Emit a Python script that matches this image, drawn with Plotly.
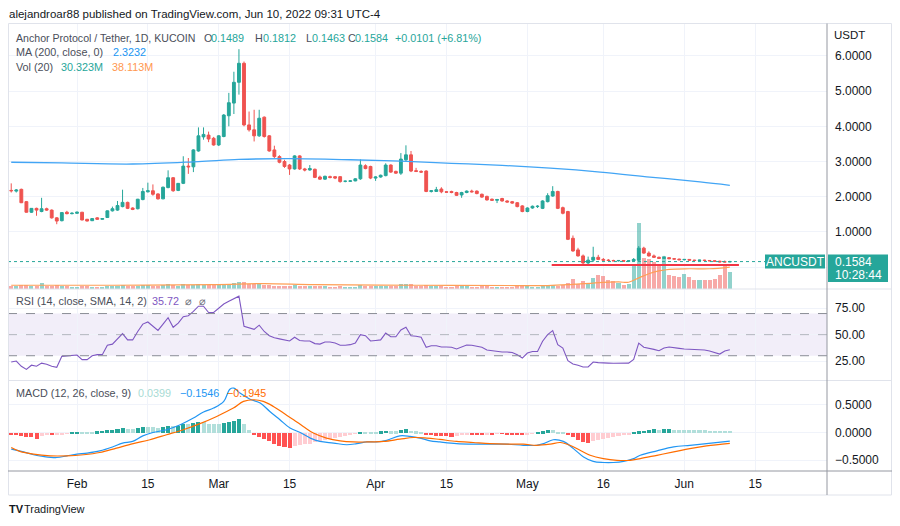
import plotly.graph_objects as go
import pandas as pd

# ---------------- DATA ----------------
start = pd.Timestamp("2022-01-19")
n_days = 143
dates = pd.date_range(start, periods=n_days, freq="D")

opens = [2.18, 2.16, 2.21, 1.86, 1.56, 1.67, 1.58, 1.66, 1.62, 1.40,
         1.32, 1.56, 1.52, 1.53, 1.56, 1.36, 1.32, 1.40, 1.36, 1.41,
         1.60, 1.62, 1.72, 1.84, 1.68, 1.66, 1.92, 2.14, 2.17, 2.08,
         1.94, 2.26, 2.54, 2.18, 2.38, 2.87, 2.85, 3.30, 3.70, 3.75,
         3.66, 3.47, 3.71, 4.30, 4.66, 5.25, 5.79, 4.04, 3.90, 3.73,
         4.26, 3.73, 3.33, 3.14, 3.00, 2.90, 2.79, 3.16, 2.79, 2.76,
         2.78, 2.56, 2.50, 2.57, 2.57, 2.57, 2.44, 2.44, 2.45, 2.51,
         2.88, 2.86, 2.53, 2.56, 2.60, 2.90, 2.72, 2.67, 3.05, 3.19,
         2.74, 2.72, 2.73, 2.15, 2.15, 2.22, 2.14, 2.15, 2.12, 2.05,
         2.12, 2.16, 2.16, 2.07, 2.01, 1.93, 1.90, 1.95, 1.88, 1.86,
         1.83, 1.74, 1.58, 1.68, 1.72, 1.67, 1.86, 2.02, 2.15, 1.69,
         1.58, 0.82, 0.49, 0.32, 0.12, 0.20, 0.28, 0.22, 0.20, 0.19,
         0.18, 0.19, 0.17, 0.18, 0.20, 0.54, 0.40, 0.32, 0.28, 0.25,
         0.27, 0.24, 0.23, 0.21, 0.22, 0.20, 0.19, 0.20, 0.19, 0.18,
         0.17, 0.15, 0.1489]
highs = [2.38, 2.22, 2.23, 1.88, 1.68, 1.69, 1.97, 1.69, 1.64, 1.42,
         1.56, 1.60, 1.56, 1.58, 1.57, 1.37, 1.39, 1.42, 1.39, 1.61,
         1.72, 1.88, 2.20, 1.86, 1.70, 1.94, 2.25, 2.40, 2.35, 2.10,
         2.29, 2.75, 2.56, 2.39, 3.15, 3.10, 3.35, 3.97, 3.97, 3.85,
         3.70, 3.75, 4.35, 4.95, 5.55, 6.19, 5.84, 4.42, 4.47, 4.47,
         4.28, 3.75, 3.45, 3.18, 3.05, 2.93, 3.18, 3.18, 2.82, 2.90,
         2.80, 2.60, 2.60, 2.60, 2.59, 2.58, 2.46, 2.47, 2.53, 3.06,
         2.92, 2.88, 2.58, 2.63, 2.95, 2.92, 2.74, 3.24, 3.46, 3.30,
         2.82, 2.75, 2.75, 2.19, 2.28, 2.27, 2.16, 2.17, 2.14, 2.14,
         2.18, 2.20, 2.18, 2.09, 2.03, 1.95, 1.94, 1.97, 1.90, 1.88,
         1.85, 1.76, 1.70, 1.75, 1.76, 1.90, 2.10, 2.30, 2.17, 1.72,
         1.60, 0.90, 0.55, 0.36, 0.30, 0.58, 0.35, 0.26, 0.23, 0.21,
         0.20, 0.20, 0.19, 0.26, 0.60, 0.58, 0.45, 0.36, 0.30, 0.32,
         0.28, 0.26, 0.24, 0.23, 0.23, 0.21, 0.21, 0.21, 0.20, 0.19,
         0.18, 0.19, 0.1812]
lows = [2.12, 2.12, 1.82, 1.55, 1.54, 1.46, 1.56, 1.60, 1.38, 1.22,
        1.30, 1.50, 1.50, 1.51, 1.33, 1.30, 1.31, 1.35, 1.35, 1.40,
        1.58, 1.60, 1.70, 1.65, 1.62, 1.64, 1.90, 2.12, 2.03, 1.92,
        1.93, 2.24, 2.14, 2.16, 2.36, 2.65, 2.70, 3.28, 3.62, 3.55,
        3.45, 3.44, 3.69, 4.00, 4.35, 4.90, 4.00, 3.85, 3.57, 3.70,
        3.68, 3.28, 3.10, 2.95, 2.82, 2.62, 2.77, 2.76, 2.72, 2.74,
        2.53, 2.48, 2.48, 2.52, 2.50, 2.40, 2.41, 2.42, 2.44, 2.48,
        2.78, 2.50, 2.45, 2.54, 2.58, 2.68, 2.65, 2.62, 3.00, 2.70,
        2.70, 2.68, 2.13, 2.12, 2.14, 2.10, 2.12, 2.10, 2.02, 1.97,
        2.10, 2.12, 2.07, 1.97, 1.89, 1.88, 1.82, 1.86, 1.84, 1.80,
        1.70, 1.56, 1.56, 1.66, 1.68, 1.65, 1.84, 2.00, 1.65, 1.50,
        0.77, 0.44, 0.30, 0.07, 0.06, 0.15, 0.20, 0.18, 0.17, 0.17,
        0.16, 0.16, 0.15, 0.16, 0.18, 0.38, 0.30, 0.26, 0.24, 0.23,
        0.23, 0.22, 0.20, 0.19, 0.19, 0.18, 0.18, 0.18, 0.17, 0.16,
        0.14, 0.14, 0.1463]
closes = [2.17, 2.19, 1.83, 1.56, 1.67, 1.62, 1.66, 1.62, 1.40, 1.31,
          1.55, 1.52, 1.53, 1.56, 1.34, 1.31, 1.38, 1.36, 1.38, 1.60,
          1.66, 1.75, 1.84, 1.67, 1.64, 1.93, 2.15, 2.17, 2.07, 1.94,
          2.27, 2.54, 2.17, 2.38, 2.87, 2.85, 3.33, 3.73, 3.77, 3.64,
          3.47, 3.73, 4.32, 4.67, 5.25, 5.79, 4.04, 3.90, 3.73, 4.23,
          3.71, 3.30, 3.14, 2.98, 2.86, 2.79, 3.16, 2.79, 2.76, 2.80,
          2.55, 2.50, 2.58, 2.55, 2.53, 2.43, 2.44, 2.45, 2.51, 2.90,
          2.80, 2.53, 2.56, 2.61, 2.90, 2.70, 2.67, 3.07, 3.19, 2.73,
          2.72, 2.70, 2.15, 2.17, 2.20, 2.14, 2.13, 2.12, 2.04, 2.12,
          2.16, 2.14, 2.09, 1.99, 1.91, 1.90, 1.92, 1.88, 1.85, 1.82,
          1.72, 1.58, 1.68, 1.73, 1.73, 1.88, 2.03, 2.15, 1.67, 1.53,
          0.79, 0.46, 0.32, 0.12, 0.20, 0.28, 0.22, 0.20, 0.19, 0.18,
          0.19, 0.17, 0.18, 0.22, 0.54, 0.40, 0.32, 0.28, 0.25, 0.27,
          0.24, 0.23, 0.21, 0.22, 0.20, 0.19, 0.20, 0.19, 0.18, 0.17,
          0.15, 0.149, 0.1584]
volumes_m = [5, 4, 6, 6, 5, 5, 10, 5, 5, 6,
             5, 4, 3, 3, 5, 4, 3, 3, 3, 4,
             4, 5, 7, 5, 4, 5, 6, 7, 5, 5,
             7, 8, 7, 5, 9, 6, 7, 8, 7, 6,
             6, 6, 7, 8, 10, 11, 12, 9, 8, 9,
             7, 6, 5, 5, 5, 5, 6, 5, 4, 4,
             4, 4, 4, 3, 3, 4, 3, 3, 3, 7,
             5, 5, 4, 4, 5, 4, 4, 9, 9, 8,
             5, 4, 6, 4, 4, 4, 3, 3, 4, 4,
             4, 3, 3, 4, 4, 3, 3, 3, 3, 3,
             4, 4, 4, 3, 3, 4, 4, 6, 5, 6,
             10, 17, 9, 13, 10, 19, 25, 23, 15, 13,
             10, 7, 8, 45, 119, 56, 53, 48, 45, 59,
             24, 23, 21, 27, 21, 15, 15, 15, 15, 18,
             25, 45, 30.323]
# Volume MA(20), read at sparse days
vol_ma_day = [0, 20, 40, 50, 60, 80, 100, 106, 110, 115, 120, 122, 124, 126, 128, 130, 134, 138, 142]
vol_ma_val = [5, 5, 6, 8, 6, 5, 4.5, 4.5, 6, 9, 11, 10.5, 18.4, 26, 31, 34, 35, 35, 38.113]
# MA(200) read at sparse days
ma200_day = [0, 10, 24, 37, 45, 55, 67, 77, 87, 97, 106.5, 116.4, 126.2, 136.1, 142]
ma200_val = [2.98, 2.96, 2.93, 3.00, 3.06, 3.08, 3.05, 3.01, 2.95, 2.89, 2.81, 2.70, 2.56, 2.42, 2.3232]

rsi = [24, 25, 20, 17, 21, 20, 23, 22, 20, 19,
       29.4, 30, 30.3, 30.7, 26.3, 26.3, 30, 31, 31, 40,
       41, 46, 51, 45, 45, 53, 60, 62, 58, 54,
       60, 66, 57, 61, 67, 68, 72, 77, 77, 71,
       71, 75, 79, 81.6, 84, 86.5, 58, 56.5, 55, 59,
       53, 49, 47, 46, 45, 44, 47.5, 44.5, 44, 44,
       41.5, 41, 43, 43, 42, 40, 40, 40.5, 42, 50,
       49, 44, 44.5, 45, 51.5, 48, 48, 54.5, 57, 49,
       48.5, 47.5, 38, 39.5, 39.5, 38.3, 38.3, 38, 36.4, 38.5,
       40.2, 40, 39, 38, 35.5, 34.8, 34.5, 33.5, 33.5, 33,
       31, 27.8, 32.6, 34, 34, 43.7, 50, 53.8, 40.5, 37.3,
       25.3, 22.2, 21, 19.3, 19.3, 24, 23.5, 23, 23, 22.8,
       22.7, 22.5, 23, 26.5, 42, 38, 37.3, 36, 34.8, 37.3,
       38.3, 38, 37, 36.4, 36.2, 36, 35.8, 35.5, 34.5, 33,
       31.6, 34.5, 35.72]

macd_hist = [-0.02, -0.03, -0.06, -0.07, -0.08, -0.10, -0.05, -0.04, -0.04, -0.03,
             -0.02, -0.01, 0.01, 0.02, 0.02, 0.02, 0.02, 0.03, 0.04, 0.05,
             0.06, 0.07, 0.09, 0.08, 0.07, 0.09, 0.11, 0.11, 0.10, 0.09,
             0.10, 0.12, 0.12, 0.13, 0.17, 0.16, 0.18, 0.20, 0.20, 0.17,
             0.16, 0.16, 0.18, 0.20, 0.22, 0.25, 0.16, 0.05, -0.03, -0.07,
             -0.10, -0.15, -0.20, -0.23, -0.26, -0.27, -0.23, -0.22, -0.20, -0.19,
             -0.17, -0.15, -0.13, -0.11, -0.09, -0.07, -0.05, -0.03, -0.01, 0.02,
             0.02, 0.02, 0.02, 0.03, 0.04, 0.03, 0.03, 0.06, 0.07, 0.04,
             0.03, 0.01, -0.02, -0.04, -0.05, -0.06, -0.06, -0.07, -0.05, -0.03,
             -0.02, -0.02, -0.02, -0.03, -0.02, -0.02, -0.01, -0.01, -0.02, -0.03,
             -0.03, -0.04, -0.02, -0.01, 0.02, 0.03, 0.05, 0.05, 0.02, 0.01,
             -0.03, -0.08, -0.12, -0.17, -0.18, -0.15, -0.13, -0.11, -0.09, -0.07,
             -0.05, -0.04, -0.02, 0.01, 0.03, 0.04, 0.06, 0.065, 0.06, 0.065,
             0.066, 0.058, 0.055, 0.053, 0.051, 0.05, 0.048, 0.046, 0.045, 0.043,
             0.042, 0.041, 0.0399]

macd_day = [0, 2, 4.4, 6.3, 9, 11, 13, 15, 17.5, 20, 22, 24, 26, 28, 30.7, 33.4, 36, 38, 40, 42,
            43.2, 44, 45.2, 47.2, 49.2, 51.1, 53.1, 55.1, 57.1, 59.1, 61, 63.7, 66.3, 68.3, 70.3,
            72.2, 74.2, 76.8, 78.8, 80.8, 82.8, 84.7, 88, 91.3, 94.6, 97.9, 101.2, 103.8, 105.2,
            107.1, 109.1, 111.1, 113.1, 115, 117, 119, 121, 123, 124.3, 127.6, 130.9, 134.1, 137.4, 142]
macd_val = [-0.30, -0.34, -0.40, -0.43, -0.45, -0.42, -0.39, -0.37, -0.33, -0.26, -0.19, -0.16, -0.06, 0.0,
            0.05, 0.14, 0.26, 0.37, 0.44, 0.56, 0.78, 0.80, 0.71, 0.60, 0.53, 0.38, 0.23, 0.08, 0.0,
            -0.10, -0.16, -0.19, -0.22, -0.20, -0.17, -0.17, -0.14, -0.06, -0.07, -0.10, -0.15, -0.17,
            -0.20, -0.21, -0.21, -0.21, -0.23, -0.23, -0.20, -0.13, -0.16, -0.29, -0.44, -0.52, -0.54,
            -0.54, -0.52, -0.47, -0.41, -0.33, -0.26, -0.23, -0.20, -0.1546]
signal_day = [0, 1.7, 4.4, 7.7, 11, 14.3, 17.5, 20.8, 24.1, 27.4, 30.7, 34, 37.3, 40.6, 43.9, 45.9,
              47.9, 49.8, 51.8, 53.8, 55.8, 57.7, 59.7, 62.3, 65, 67.6, 70.3, 73.6, 76.8, 79.5, 82.1,
              84.7, 88, 91.3, 94.6, 97.9, 101.2, 103.8, 106.5, 108.5, 110.4, 112.4, 114.4, 117,
              119.7, 122.3, 124.3, 127.6, 130.9, 134.1, 137.4, 142]
signal_val = [-0.27, -0.34, -0.39, -0.42, -0.42, -0.40, -0.36, -0.28, -0.20, -0.13, -0.04, 0.05, 0.16,
              0.29, 0.44, 0.56, 0.59, 0.56, 0.47, 0.35, 0.23, 0.11, -0.01, -0.10, -0.15, -0.17, -0.17,
              -0.16, -0.12, -0.09, -0.10, -0.125, -0.16, -0.18, -0.20, -0.21, -0.21, -0.23, -0.21,
              -0.18, -0.23, -0.32, -0.41, -0.47, -0.50, -0.50, -0.47, -0.41, -0.35, -0.29, -0.24, -0.1945]

x_tick_dates = ["2022-02-01", "2022-02-15", "2022-03-01", "2022-03-15", "2022-04-01",
                "2022-04-15", "2022-05-01", "2022-05-16", "2022-06-01", "2022-06-15"]
x_tick_text = ["Feb", "15", "Mar", "15", "Apr", "15", "May", "16", "Jun", "15"]
price_ticks = [0, 1, 2, 3, 4, 5, 6]
price_tick_text = ["", "1.0000", "2.0000", "3.0000", "4.0000", "5.0000", "6.0000"]
rsi_ticks = [25, 50, 75]
rsi_tick_text = ["25.00", "50.00", "75.00"]
macd_ticks = [-0.5, 0, 0.5]
macd_tick_text = ["\u22120.5000", "0.0000", "0.5000"]

last_price = 0.1584
support_level = 0.0625
support_from_day, support_to_day = 106.8, 143.8

# ---------------- STYLE / GEOMETRY ----------------
# The page body has an 8px margin, so the figure is 884x510 and sits at (8, 8).
PAGE_W, PAGE_H, OFF = 900, 526, 8
W, H = PAGE_W - 2 * OFF, PAGE_H - 2 * OFF
FONT = "Liberation Sans, Arial, sans-serif"
UP, DOWN = "#26a69a", "#ef5350"
TXT = "#131722"
LEG = "#4a4e59"


def X(px):
    """page pixel x -> paper fraction"""
    return (px - OFF) / W


def Y(py):
    """page pixel y -> paper fraction"""
    return 1 - (py - OFF) / H


def day_ts(d):
    return start + pd.to_timedelta(d, unit="D")


DAY_MS = 86400000

fig = go.Figure()

vol_colors = ["rgba(38,166,154,0.5)" if c >= o else "rgba(239,83,80,0.5)" for o, c in zip(opens, closes)]
fig.add_trace(go.Bar(x=dates, y=volumes_m, marker=dict(color=vol_colors, line=dict(width=0)),
                     width=DAY_MS * 0.8, yaxis="y2", hoverinfo="skip"))
fig.add_trace(go.Scatter(x=[day_ts(d) for d in vol_ma_day], y=vol_ma_val, mode="lines",
                         line=dict(color="#ff9f55", width=1.2, shape="spline"), yaxis="y2"))
fig.add_trace(go.Scatter(x=[day_ts(d) for d in ma200_day], y=ma200_val, mode="lines",
                         line=dict(color="#42a5f5", width=1.3, shape="spline"), yaxis="y"))
fig.add_trace(go.Candlestick(x=dates, open=opens, high=highs, low=lows, close=closes,
                             increasing=dict(line=dict(color=UP, width=1), fillcolor=UP),
                             decreasing=dict(line=dict(color=DOWN, width=1), fillcolor=DOWN),
                             whiskerwidth=0, yaxis="y"))
fig.add_trace(go.Scatter(x=dates, y=rsi, mode="lines", line=dict(color="#7e57c2", width=1.1), yaxis="y3"))

hist_colors = []
prev = None
for v in macd_hist:
    p = v if prev is None else prev
    if v >= 0:
        hist_colors.append("#26a69a" if v > p else "#b2dfdb")
    else:
        hist_colors.append("#ffcdd2" if v > p else "#ff5252")
    prev = v
fig.add_trace(go.Bar(x=dates, y=macd_hist, marker=dict(color=hist_colors, line=dict(width=0)),
                     width=DAY_MS * 0.8, yaxis="y4"))
fig.add_trace(go.Scatter(x=[day_ts(d) for d in macd_day], y=macd_val, mode="lines",
                         line=dict(color="#2196f3", width=1.2, shape="spline"), yaxis="y4"))
fig.add_trace(go.Scatter(x=[day_ts(d) for d in signal_day], y=signal_val, mode="lines",
                         line=dict(color="#ff6d00", width=1.2, shape="spline"), yaxis="y4"))

x_range = [day_ts(-0.636), day_ts(161.2)]
axis_common = dict(side="right", anchor="x", showline=False, zeroline=False, gridcolor="#f0f3fa",
                   tickfont=dict(size=12, color=TXT, family=FONT), ticks="", ticklabelstandoff=7)

fig.update_layout(
    width=W, height=H, margin=dict(l=0, r=0, t=0, b=0),
    paper_bgcolor="white", plot_bgcolor="white", showlegend=False,
    font=dict(family=FONT, color=TXT), bargap=0, boxgap=0.2,
    xaxis=dict(domain=[X(8), X(827)], range=x_range, anchor="y4", tickmode="array",
               tickvals=x_tick_dates, ticktext=x_tick_text, showgrid=True, gridcolor="#f0f3fa",
               showline=False, zeroline=False, ticks="", rangeslider=dict(visible=False),
               tickfont=dict(size=12, color=TXT, family=FONT), ticklabelstandoff=4),
    yaxis=dict(domain=[Y(289), Y(23.5)], range=[-0.62, 6.92], tickvals=price_ticks,
               ticktext=price_tick_text, **axis_common),
    yaxis2=dict(domain=[Y(289), Y(23.5)], range=[-1.8, 481], overlaying="y", visible=False),
    yaxis3=dict(domain=[Y(380.5), Y(289)], range=[6.5, 93.3], tickvals=rsi_ticks,
                ticktext=rsi_tick_text, **axis_common),
    yaxis4=dict(domain=[Y(471), Y(380.5)], range=[-0.693, 0.937], tickvals=macd_ticks,
                ticktext=macd_tick_text, **axis_common),
)

shapes = []
# RSI band
shapes.append(dict(type="rect", xref="paper", yref="y3", x0=X(8), x1=X(827), y0=30, y1=70,
                   fillcolor="rgba(126,87,194,0.1)", line=dict(width=0), layer="below"))
for lvl, col in [(70, "#8a8d96"), (50, "rgba(120,123,134,0.5)"), (30, "#8a8d96")]:
    shapes.append(dict(type="line", xref="paper", yref="y3", x0=X(8), x1=X(827), y0=lvl, y1=lvl,
                       line=dict(color=col, width=1, dash="dash")))
# last price dotted line
shapes.append(dict(type="line", xref="paper", yref="y", x0=X(8), x1=X(765), y0=last_price, y1=last_price,
                   line=dict(color=UP, width=1, dash="dot")))
# user drawn support line
shapes.append(dict(type="line", xref="x", yref="y", x0=day_ts(support_from_day), x1=day_ts(support_to_day),
                   y0=support_level, y1=support_level, line=dict(color="#f23645", width=2)))
# frame and separators
shapes.append(dict(type="rect", xref="paper", yref="paper", x0=X(8.5), x1=X(891.5), y0=Y(495), y1=Y(23.5),
                   line=dict(color="#e0e3eb", width=1), layer="above"))
for yy in (289, 380.5):
    shapes.append(dict(type="line", xref="paper", yref="paper", x0=X(8), x1=X(892), y0=Y(yy), y1=Y(yy),
                       line=dict(color="#e0e3eb", width=1), layer="above"))
shapes.append(dict(type="line", xref="paper", yref="paper", x0=X(8), x1=X(892), y0=Y(471), y1=Y(471),
                   line=dict(color="#9598a1", width=1), layer="above"))
shapes.append(dict(type="line", xref="paper", yref="paper", x0=X(827), x1=X(827), y0=Y(495), y1=Y(23.5),
                   line=dict(color="#9598a1", width=1), layer="above"))
# label boxes
shapes.append(dict(type="rect", xref="paper", yref="paper", x0=X(765), x1=X(825), y0=Y(268.5), y1=Y(254.5),
                   fillcolor=UP, line=dict(width=0), layer="above"))
shapes.append(dict(type="rect", xref="paper", yref="paper", x0=X(828), x1=X(888), y0=Y(282), y1=Y(254.5),
                   fillcolor=UP, line=dict(width=0), layer="above"))
fig.update_layout(shapes=shapes)


def txt(x, y, s, color=LEG, size=10.8, anchor="left"):
    return dict(x=X(x), y=Y(y), xref="paper", yref="paper", text=s, showarrow=False,
                xanchor=anchor, yanchor="middle", font=dict(size=size, color=color, family=FONT),
                borderpad=0)


ann = [
    txt(8, 14.5, "alejandroar88 published on TradingView.com, Jun 10, 2022 09:31 UTC-4", TXT, 11.5),
    txt(15, 37.5, "Anchor Protocol / Tether, 1D, KUCOIN", LEG, 10.6),
    txt(203, 37.5, "O"), txt(210, 37.5, "0.1489", UP),
    txt(254, 37.5, "H"), txt(262, 37.5, "0.1812", UP),
    txt(305, 37.5, "L"), txt(311, 37.5, "0.1463", UP),
    txt(347, 37.5, "C"), txt(354, 37.5, "0.1584", UP),
    txt(394, 37.5, "+0.0101 (+6.81%)", UP),
    txt(15, 52, "MA (200, close, 0)"), txt(112, 52, "2.3232", "#2196f3"),
    txt(15, 67, "Vol (20)"), txt(60, 67, "30.323M", UP),
    txt(111, 67, "38.113M", "#ff9850"),
    txt(15, 301, "RSI (14, close, SMA, 14, 2)"), txt(151, 301, "35.72", "#7e57c2"),
    txt(184, 301, "\u2300", "#6a6d78"), txt(198, 301, "\u2300", "#6a6d78"),
    txt(15, 393, "MACD (12, 26, close, 9)"), txt(137, 393, "0.0399", "#a8dbd4"),
    txt(179, 393, "\u22120.1546", "#2196f3"), txt(226, 393, "\u22120.1945", "#ff6d00"),
    txt(833, 35, "USDT", TXT, 11.5),
    txt(795, 261.5, "ANCUSDT", "white", 12, "center"),
    txt(834, 262, "0.1584", "white", 12), txt(834, 275, "10:28:44", "white", 12),
    txt(8, 509, "<b>TV</b>", TXT, 11), txt(23, 509, "TradingView", TXT, 11),
]
fig.update_layout(annotations=ann)

fig.write_html("out.html")
